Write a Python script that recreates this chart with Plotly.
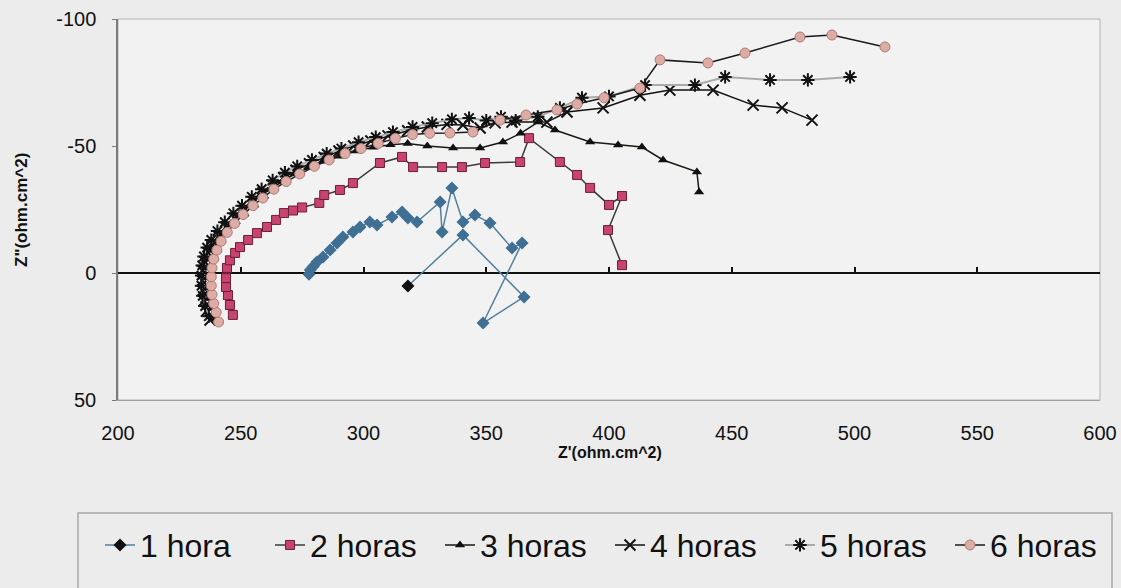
import plotly.graph_objects as go

# Nyquist data: Z' (real) and Z'' (imaginary), ohm.cm^2
x_1h = [318.1, 340.5, 365.4, 348.7, 364.6, 360.5, 351.5, 345.4, 340.5, 336.0,
        332.0, 331.2, 321.8, 318.1, 315.7, 311.6, 305.5, 302.6, 298.6, 295.7,
        291.6, 289.2, 286.4, 283.5, 281.0, 279.5, 278.3, 277.8]
y_1h = [5.1, -15.0, 9.4, 19.7, -11.8, -9.8, -19.7, -22.8, -20.1, -33.5,
        -16.1, -28.0, -20.1, -21.7, -24.0, -22.0, -18.9, -20.1, -18.1, -16.1,
        -14.2, -11.8, -9.1, -6.3, -4.3, -2.6, -1.2, 0.5]

x_2h = [246.8, 245.6, 244.8, 244.0, 244.0, 244.4, 245.6, 247.7, 249.7, 253.0,
        256.6, 260.7, 264.4, 267.6, 271.3, 275.0, 282.0, 284.0, 290.4, 295.7,
        306.7, 315.7, 320.2, 332.0, 340.1, 349.5, 363.8, 367.4, 380.0, 387.0,
        392.3, 400.0, 405.3, 399.6, 405.3]
y_2h = [16.5, 12.6, 8.7, 5.5, 2.0, -2.0, -5.0, -7.9, -10.2, -13.0,
        -15.7, -18.1, -20.9, -23.6, -24.6, -25.8, -27.6, -30.7, -32.7, -35.4,
        -43.3, -45.7, -41.7, -41.7, -41.7, -43.3, -43.7, -53.1, -43.7, -38.6,
        -33.5, -26.8, -30.3, -16.9, -3.1]

x_3h = [240.0, 238.5, 237.5, 237.0, 236.8, 237.0, 237.7, 239.0, 240.7, 243.0,
        246.0, 249.5, 253.5, 257.5, 262.0, 267.0, 272.0, 278.0, 284.0, 290.0,
        297.0, 304.0, 311.0, 318.0, 326.0, 336.5, 347.5, 356.8, 364.0, 371.1,
        378.0, 392.3, 403.7, 413.4, 422.0, 435.8, 436.7]
y_3h = [18.0, 14.0, 10.0, 6.0, 2.0, -2.0, -5.5, -9.0, -12.5, -16.0,
        -19.5, -23.0, -26.5, -30.0, -33.0, -36.0, -39.0, -41.5, -44.0, -46.0,
        -48.0, -49.5, -50.5, -51.0, -50.0, -49.2, -49.2, -51.6, -55.0, -59.4,
        -56.3, -51.6, -50.4, -49.6, -44.5, -39.8, -31.9]

x_4h = [237.5, 236.0, 235.0, 234.5, 234.3, 234.5, 235.3, 236.7, 238.5, 241.0,
        244.0, 247.5, 251.0, 255.0, 259.0, 263.0, 267.5, 272.5, 278.0, 284.0,
        290.0, 296.0, 303.0, 310.0, 318.0, 326.0, 334.0, 340.5, 347.5, 353.6,
        360.5, 374.7, 382.9, 397.6, 412.6, 424.8, 442.4, 458.7, 470.5, 482.7]
y_4h = [18.5, 15.0, 11.0, 7.0, 3.0, -1.0, -4.5, -8.0, -11.0, -14.5,
        -18.0, -21.5, -24.5, -28.0, -31.5, -34.5, -37.5, -40.5, -43.0, -45.5,
        -48.0, -50.0, -52.0, -54.0, -56.0, -57.5, -58.5, -58.3, -57.1, -59.1,
        -59.4, -59.4, -63.4, -65.0, -70.0, -72.0, -72.0, -66.1, -65.0, -60.2]

x_5h = [237.0, 235.5, 234.5, 234.0, 234.0, 234.3, 235.0, 236.3, 238.0, 240.5,
        243.5, 247.0, 250.5, 254.5, 258.5, 263.0, 268.0, 273.0, 279.0, 285.0,
        291.0, 298.0, 305.0, 312.0, 320.0, 328.0, 336.0, 343.0, 350.0, 356.0,
        362.0, 371.0, 380.0, 389.0, 400.0, 414.7, 435.0, 447.3, 465.6, 481.0,
        498.2]
y_5h = [17.0, 13.0, 9.0, 5.0, 1.0, -3.0, -6.5, -10.0, -13.0, -16.5,
        -20.0, -23.5, -26.5, -30.0, -33.0, -36.5, -39.5, -42.0, -44.5, -47.0,
        -49.0, -51.5, -53.5, -55.5, -57.5, -59.0, -60.5, -61.0, -60.0, -61.5,
        -60.0, -61.5, -65.0, -69.0, -69.5, -74.0, -74.0, -77.2, -76.0, -76.0,
        -77.2]

x_6h = [241.0, 240.0, 239.0, 238.3, 238.0, 238.0, 238.3, 239.0, 240.3, 242.0,
        244.5, 247.5, 251.0, 255.0, 259.0, 263.5, 268.5, 274.0, 280.0, 286.0,
        292.5, 299.0, 306.0, 313.0, 320.0, 327.0, 335.2, 344.6, 355.6, 366.2,
        378.8, 387.0, 398.0, 412.6, 420.8, 440.3, 455.4, 477.8, 490.8, 512.4]
y_6h = [19.3, 15.5, 12.0, 8.5, 5.0, 1.5, -2.0, -5.5, -9.0, -12.5,
        -16.0, -19.5, -23.0, -26.5, -29.5, -33.0, -36.0, -39.0, -42.0, -44.5,
        -47.0, -49.0, -51.0, -53.0, -54.5, -55.0, -55.1, -55.5, -60.2, -62.2,
        -64.2, -66.5, -69.0, -72.8, -83.9, -82.7, -86.6, -92.9, -93.7, -89.0]

x_ticks = [200, 250, 300, 350, 400, 450, 500, 550, 600]
y_ticks = [-100, -50, 0, 50]
y_tick_text = ["-100", "-50", "0", "50"]

fig = go.Figure()

blue = "#3f6f93"
fig.add_trace(go.Scatter(
    x=x_1h, y=y_1h, name="1 hora", mode="lines+markers",
    line=dict(color="#52809e", width=1.5),
    marker=dict(symbol="diamond", size=10,
                color=["#111111"] + [blue] * (len(x_1h) - 1),
                line=dict(width=0)),
))
fig.add_trace(go.Scatter(
    x=x_2h, y=y_2h, name="2 horas", mode="lines+markers",
    line=dict(color="#3a3a3a", width=1.5),
    marker=dict(symbol="square", size=9, color="#c8436f",
                line=dict(color="#6a2038", width=1)),
))
fig.add_trace(go.Scatter(
    x=x_3h, y=y_3h, name="3 horas", mode="lines+markers",
    line=dict(color="#1a1a10", width=1.5),
    marker=dict(symbol="triangle-up", size=9, color="#111111"),
))
fig.add_trace(go.Scatter(
    x=x_4h, y=y_4h, name="4 horas", mode="lines+markers",
    line=dict(color="#111111", width=1.5),
    marker=dict(symbol="x-thin-open", size=11, color="#111111",
                line=dict(color="#111111", width=2)),
))
fig.add_trace(go.Scatter(
    x=x_5h, y=y_5h, name="5 horas", mode="lines+markers",
    line=dict(color="#ababab", width=2),
    marker=dict(symbol="asterisk-open", size=11, color="#111111",
                line=dict(color="#111111", width=2)),
))
fig.add_trace(go.Scatter(
    x=x_6h, y=y_6h, name="6 horas", mode="lines+markers",
    line=dict(color="#1a1a1a", width=1.5),
    marker=dict(symbol="circle", size=10, color="#ddaca4",
                line=dict(color="#b07a78", width=1)),
))

font_family = "Liberation Sans, Arial, sans-serif"

fig.update_layout(
    width=1121, height=588,
    margin=dict(l=118, r=21, t=19, b=188, autoexpand=False),
    paper_bgcolor="#ececec",
    plot_bgcolor="#f2f2f3",
    font=dict(family=font_family, color="#111111"),
    showlegend=True,
    legend=dict(
        orientation="h",
        x=(100 - 118) / 982, xanchor="left",
        y=-0.381, yanchor="middle",
        font=dict(size=32, family=font_family, color="#111111"),
        bgcolor="rgba(0,0,0,0)",
        borderwidth=0,
        entrywidth=125,
        itemclick=False,
    ),
    xaxis=dict(
        range=[200, 600], tickvals=x_ticks,
        showgrid=False, zeroline=False,
        showline=True, linecolor="#a0a0a0", linewidth=1,
        ticks="", ticklabelstandoff=15,
        tickfont=dict(size=20, family=font_family, color="#111111"),
    ),
    xaxis2=dict(
        overlaying="x", matches="x", anchor="free", position=1 / 3,
        range=[200, 600], tickvals=x_ticks,
        showticklabels=False, showgrid=False, zeroline=False, showline=False,
        ticks="inside", ticklen=6, tickwidth=2, tickcolor="#111111",
    ),
    yaxis=dict(
        range=[50, -100], tickvals=y_ticks, ticktext=y_tick_text,
        showgrid=False,
        zeroline=True, zerolinecolor="#111111", zerolinewidth=2,
        showline=True, linecolor="#7a7a7a", linewidth=1.5,
        ticks="outside", ticklen=4, tickcolor="#7a7a7a",
        ticklabelstandoff=12,
        tickfont=dict(size=20, family=font_family, color="#111111"),
    ),
    shapes=[
        # plot area frame
        dict(type="rect", xref="paper", yref="paper", x0=0, x1=1, y0=0, y1=1,
             line=dict(color="#b4b4b4", width=1), layer="below"),
        # legend frame
        dict(type="rect", xref="paper", yref="paper",
             x0=(78 - 118) / 982, x1=(1112 - 118) / 982,
             y0=(400 - 590) / 381, y1=(400 - 513) / 381,
             line=dict(color="#a8a8a8", width=1.5), fillcolor="rgba(0,0,0,0)"),
    ],
    annotations=[
        dict(text="<b>Z'(ohm.cm^2)</b>", xref="paper", yref="paper",
             x=0.501, y=(400 - 453) / 381, xanchor="center", yanchor="middle",
             showarrow=False,
             font=dict(size=16, family=font_family, color="#111111")),
        dict(text="<b>Z\"(ohm.cm^2)</b>", xref="paper", yref="paper",
             x=(22 - 118) / 982, y=(400 - 210) / 381,
             xanchor="center", yanchor="middle", showarrow=False,
             textangle=-90,
             font=dict(size=17, family=font_family, color="#111111")),
    ],
)

# empty trace on the overlaying axis that carries the ticks along Z'' = 0
fig.add_trace(go.Scatter(x=[None], y=[None], xaxis="x2", showlegend=False,
                         hoverinfo="skip"))

fig.write_html("out.html")
